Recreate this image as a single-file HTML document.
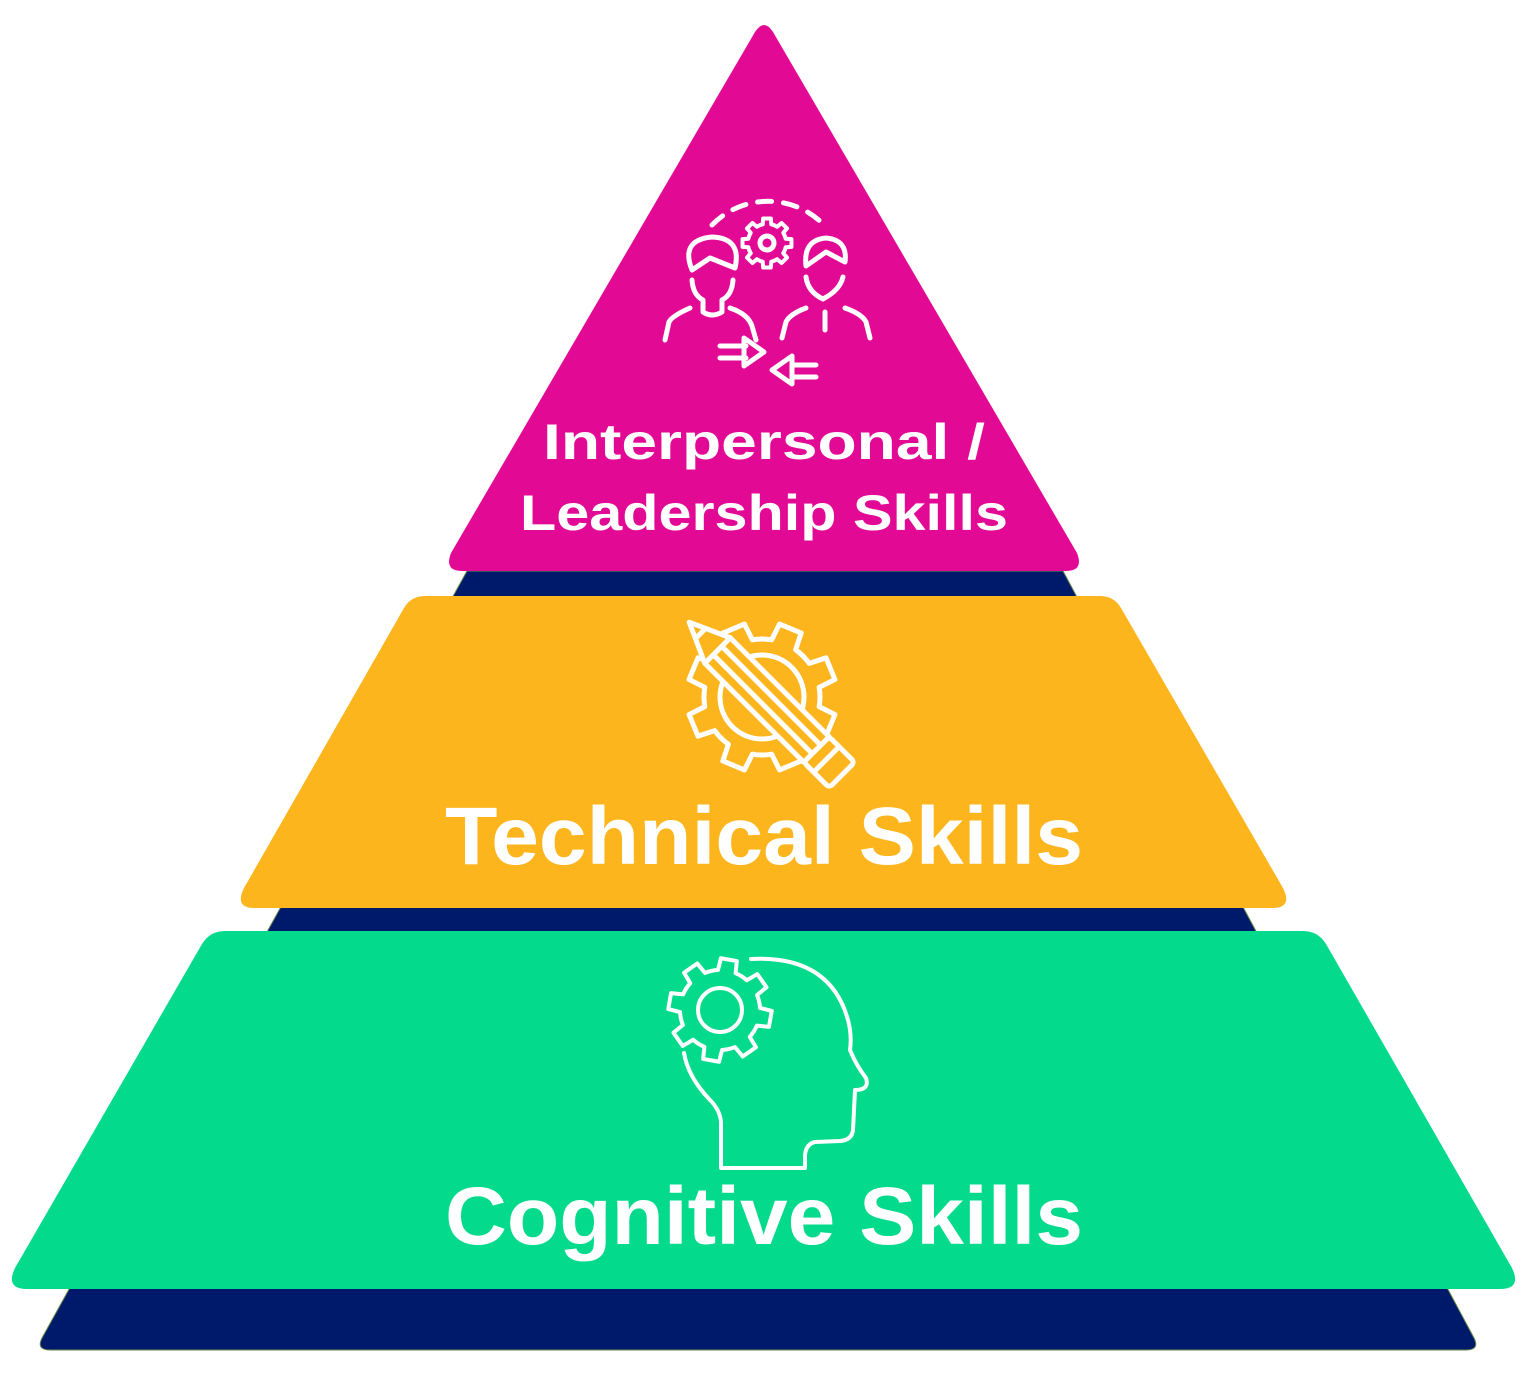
<!DOCTYPE html>
<html><head><meta charset="utf-8"><style>
html,body{margin:0;padding:0;background:#fff;}
svg{display:block;}
text{font-family:"Liberation Sans",sans-serif;font-weight:bold;fill:#fff;}
</style></head><body>
<svg width="1536" height="1374" viewBox="0 0 1536 1374" xmlns="http://www.w3.org/2000/svg">
<defs>
<path id="tooth" d="M-22.2,-53.6 A58,58 0 0 1 -13,-56.5 L-11.7,-74.1 L11.7,-74.1 L13,-56.5 A58,58 0 0 1 22.2,-53.6" fill="none" stroke="#fff" vector-effect="non-scaling-stroke" stroke-linejoin="round" stroke-linecap="round"/>
<g id="gear">
<use href="#tooth"/>
<use href="#tooth" transform="rotate(45)"/>
<use href="#tooth" transform="rotate(90)"/>
<use href="#tooth" transform="rotate(135)"/>
<use href="#tooth" transform="rotate(180)"/>
<use href="#tooth" transform="rotate(225)"/>
<use href="#tooth" transform="rotate(270)"/>
<use href="#tooth" transform="rotate(315)"/>
</g>
</defs>
<!-- navy base -->
<path d="M467,571 L1063,571 L1474,1338 Q1480,1350 1466,1350 L50,1350 Q36,1350 42,1338 Z" fill="#001a6b" stroke="#6a8a4a" stroke-width="1"/>
<!-- magenta triangle -->
<path d="M755,32 Q764,18 773,32 L1077,553 Q1084,571 1066,571 L462,571 Q444,571 451,553 Z" fill="#e20995"/>
<!-- yellow -->
<path d="M425,596 L1100,596 Q1114,596 1121,608 L1283,888 Q1293,908 1272,908 L255,908 Q234,908 244,888 L404,608 Q411,596 425,596 Z" fill="#fdb51e"/>
<!-- green -->
<path d="M225,931 L1303,931 Q1318,931 1326,944 L1512,1268 Q1522,1289 1500,1289 L27,1289 Q5,1289 15,1268 L202,944 Q210,931 225,931 Z" fill="#04da8b"/>

<!-- interpersonal icon -->
<g fill="none" stroke="#fff" stroke-width="5" stroke-linecap="round" stroke-linejoin="round">
<path d="M712,225 A78,78 0 0 1 824,225" stroke-dasharray="14,12"/>
<g transform="translate(767,243) scale(0.33)" stroke-width="4"><use href="#gear" style="stroke-width:4"/></g>
<circle cx="767" cy="243" r="7"/>
<!-- left person -->
<path d="M692,270 Q680,240 712,237 Q742,238 735,268 L710,258 Z"/>
<path d="M692,280 Q693,295 703,300 L703,310 M733,280 Q732,295 722,300 L722,310"/>
<path d="M703,312 Q712,318 722,312"/>
<path d="M665,340 L669,322 Q672,316 690,308 M730,308 Q748,314 752,326 L756,340"/>
<!-- right person -->
<path d="M806,266 Q803,240 826,238 Q848,240 845,262 L826,252 Z"/>
<path d="M806,277 Q808,292 823,299 Q840,290 843,277"/>
<path d="M825,312 L825,330"/>
<path d="M782,338 L786,322 Q790,314 806,308 M845,308 Q862,314 866,322 L870,338"/>
<!-- arrows -->
<path d="M720,346 L746,346 M720,358 L746,358 M744,338 L764,352 L744,366 Z"/>
<path d="M816,365 L792,365 M816,377 L792,377 M792,356 L772,370 L792,384 Z"/>
</g>
<text x="764" y="459" font-size="50" text-anchor="middle" textLength="442" lengthAdjust="spacingAndGlyphs">Interpersonal /</text>
<text x="764" y="530" font-size="50" text-anchor="middle" textLength="488" lengthAdjust="spacingAndGlyphs">Leadership Skills</text>

<!-- technical icon -->
<g fill="none" stroke="#fff" stroke-width="5" stroke-linejoin="round">
<g transform="translate(762,697) rotate(22.5)" style="stroke-width:5"><use href="#gear" style="stroke-width:5"/></g>
<circle cx="762" cy="697" r="42"/>
<g transform="translate(767,700) rotate(45)" fill="#fdb51e">
<rect x="-70" y="-18" width="140" height="36"/>
<line x1="-70" y1="-6" x2="70" y2="-6"/>
<line x1="-70" y1="6" x2="70" y2="6"/>
<path d="M-70,-18 L-110,0 L-70,18 Z"/>
<path d="M-94,-8 L-94,8"/>
<rect x="70" y="-18" width="36" height="36" rx="4"/>
<line x1="84" y1="-18" x2="84" y2="18"/>
</g>
</g>
<text x="764" y="864" font-size="82" text-anchor="middle" textLength="638" lengthAdjust="spacingAndGlyphs">Technical Skills</text>

<!-- cognitive icon -->
<g fill="none" stroke="#fff" stroke-width="4" stroke-linejoin="round" stroke-linecap="round">
<g transform="translate(720,1010) rotate(10) scale(0.69)"><use href="#gear" style="stroke-width:4"/></g>
<circle cx="720" cy="1010" r="22"/>
<path d="M751,959 Q830,955 848,1020 Q852,1035 850,1050 Q856,1065 866,1078 Q870,1090 855,1090 L853,1130 Q852,1140 840,1141 L815,1142 Q806,1144 805,1155 L805,1168 L721,1168 L721,1122 Q720,1110 710,1100 Q688,1077 684,1053"/>
</g>
<text x="764" y="1244" font-size="82" text-anchor="middle" textLength="638" lengthAdjust="spacingAndGlyphs">Cognitive Skills</text>
</svg>
</body></html>
